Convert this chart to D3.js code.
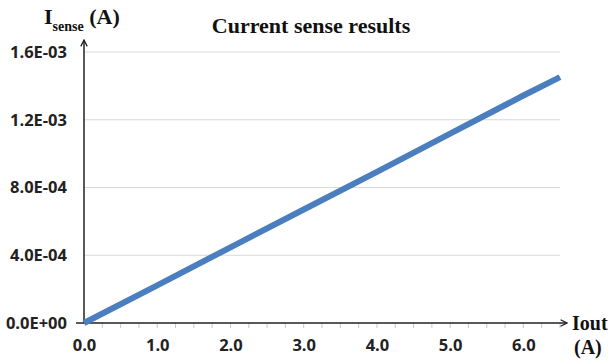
<!DOCTYPE html>
<html>
<head>
<meta charset="utf-8">
<script src="https://cdn.jsdelivr.net/npm/d3@7"></script>
<style>
  body { margin: 0; background: #fff; }
  .tick text { font-family: "Open Sans", "DejaVu Sans", sans-serif; font-weight: bold; font-size: 16.5px; fill: #222; }
  .serif { font-family: "Liberation Serif", "Times New Roman", serif; font-weight: bold; fill: #111; }
</style>
</head>
<body>
<svg width="610" height="360"></svg>
<script>
// measured current sense output vs load current
var iout = [0, 1, 2, 3, 4, 5, 6, 6.5];
var isense = [0, 2.22e-4, 4.47e-4, 6.7e-4, 8.92e-4, 1.118e-3, 1.343e-3, 1.452e-3];
var yTicks = [0, 4e-4, 8e-4, 1.2e-3, 1.6e-3];
var xTicks = [0, 1, 2, 3, 4, 5, 6];

var svg = d3.select("svg");
var mLeft = 84, mRight = 560, mTop = 52, mBottom = 323;

var x = d3.scaleLinear().domain([0, 6.5]).range([mLeft, mRight]);
var y = d3.scaleLinear().domain([0, 1.6e-3]).range([mBottom, mTop]);

var defs = svg.append("defs");
defs.append("marker")
    .attr("id", "arrow")
    .attr("viewBox", "0 0 10 10")
    .attr("refX", 9).attr("refY", 5)
    .attr("markerWidth", 8).attr("markerHeight", 8)
    .attr("markerUnits", "userSpaceOnUse")
    .attr("orient", "auto")
  .append("path")
    .attr("d", "M1,1 L9,5 L1,9")
    .attr("fill", "none")
    .attr("stroke", "#222")
    .attr("stroke-width", 1.6);

// gridlines
svg.append("g").selectAll("line")
    .data(yTicks.slice(1))
    .enter().append("line")
    .attr("x1", mLeft).attr("x2", mRight)
    .attr("y1", function(d) { return y(d); })
    .attr("y2", function(d) { return y(d); })
    .attr("stroke", "#d9d9d9")
    .attr("stroke-width", 1);

// minor ticks below x axis
svg.append("g").selectAll("line")
    .data(d3.range(1, 27).map(function(i) { return i * 0.25; }))
    .enter().append("line")
    .attr("x1", function(d) { return x(d); })
    .attr("x2", function(d) { return x(d); })
    .attr("y1", mBottom).attr("y2", mBottom + 5)
    .attr("stroke", "#c8c8c8");

// y axis labels
var yAxis = svg.append("g")
    .attr("transform", "translate(" + mLeft + ",0)")
    .call(d3.axisLeft(y).tickValues(yTicks).tickSize(0).tickPadding(17)
      .tickFormat(function(d) { return d.toExponential(1).toUpperCase().replace(/E([+-])(\d)$/, "E$10$2"); }));
yAxis.select(".domain").remove();

// x axis labels
var xAxis = svg.append("g")
    .attr("transform", "translate(0," + mBottom + ")")
    .call(d3.axisBottom(x).tickValues(xTicks).tickSize(0).tickPadding(16)
      .tickFormat(d3.format(".1f")));
xAxis.select(".domain").remove();

// axis lines with arrows
svg.append("line")
    .attr("x1", mLeft).attr("y1", mBottom).attr("x2", mLeft).attr("y2", 40)
    .attr("stroke", "#222").attr("stroke-width", 1.5)
    .attr("marker-end", "url(#arrow)");
svg.append("line")
    .attr("x1", mLeft - 8).attr("y1", mBottom).attr("x2", 567).attr("y2", mBottom)
    .attr("stroke", "#222").attr("stroke-width", 1.5)
    .attr("marker-end", "url(#arrow)");

// data line
var line = d3.line()
    .x(function(d, i) { return x(iout[i]); })
    .y(function(d) { return y(d); });
svg.append("path")
    .datum(isense)
    .attr("d", line)
    .attr("fill", "none")
    .attr("stroke", "#4a7ebf")
    .attr("stroke-width", 6);

// title and labels
svg.append("text").attr("class", "serif")
    .attr("x", 311).attr("y", 33)
    .attr("text-anchor", "middle")
    .style("font-size", "22px")
    .text("Current sense results");

var yl = svg.append("text").attr("class", "serif")
    .attr("x", 44).attr("y", 24)
    .style("font-size", "22px");
yl.append("tspan").text("I");
yl.append("tspan").attr("dy", 7).style("font-size", "14px").text("sense");
yl.append("tspan").attr("dy", -7).text(" (A)");

svg.append("text").attr("class", "serif")
    .attr("x", 572).attr("y", 330)
    .style("font-size", "20px")
    .text("Iout");
svg.append("text").attr("class", "serif")
    .attr("x", 574).attr("y", 354)
    .style("font-size", "20px")
    .text("(A)");
</script>
</body>
</html>
